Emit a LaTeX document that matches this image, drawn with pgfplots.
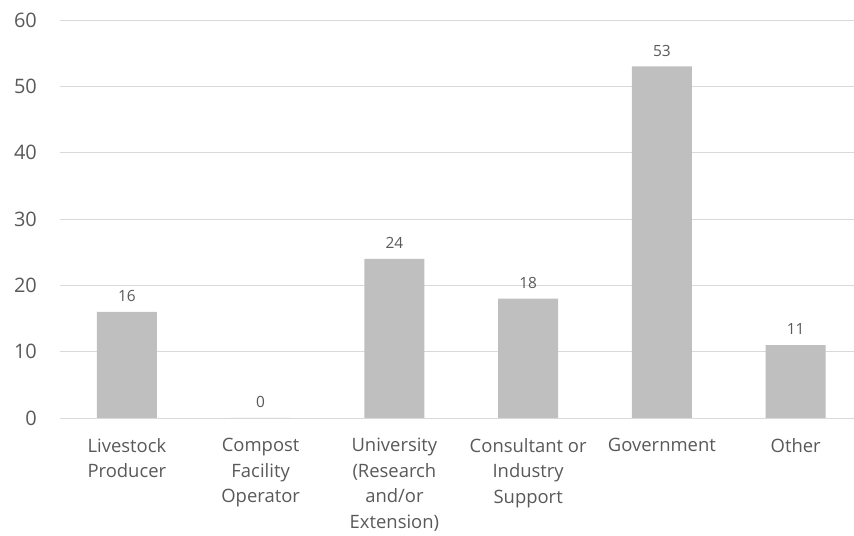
\documentclass[border=0pt]{standalone}
\usepackage{pgfplots}
\pgfplotsset{compat=1.18}
\usepackage{fontspec}
\setmainfont{Open Sans}

\definecolor{barfill}{HTML}{BFBFBF}
\definecolor{labeltext}{HTML}{595959}
\definecolor{gridline}{HTML}{D9D9D9}

\begin{document}
\begin{tikzpicture}[x=1bp,y=1bp]
  \useasboundingbox (-60,-118) rectangle (794,418);
  \begin{axis}[
    at={(0,0)}, anchor=south west,
    scale only axis,
    width=794bp, height=398bp,
    ybar, bar width=0.448,
    xmin=-0.5, xmax=5.436,
    ymin=0, ymax=60,
    ytick={0,10,...,60},
    xtick=data,
    xticklabels={
      Livestock\\Producer,
      Compost\\Facility\\Operator,
      University\\(Research\\and/or\\Extension),
      Consultant or\\Industry\\Support,
      Government,
      Other},
    major tick length=0pt,
    axis line style={draw=none},
    ymajorgrids,
    grid style={gridline, line width=0.9bp},
    /pgf/number format/assume math mode=true,
    yticklabel style={anchor=east, inner sep=0pt, xshift=-23bp,
      font=\fontsize{20}{24}\selectfont, text=labeltext},
    xticklabel style={anchor=north, inner sep=0pt, yshift=-20bp, align=center,
      font=\fontsize{18.5}{25.7}\selectfont, text=labeltext},
    nodes near coords,
    nodes near coords style={anchor=south, inner sep=0pt, yshift=10bp,
      font=\fontsize{15.5}{18}\selectfont, text=labeltext},
  ]
    \addplot[fill=barfill, draw=none] coordinates {
      (0,16) (1,0) (2,24) (3,18) (4,53) (5,11)
    };
  \end{axis}
\end{tikzpicture}
\end{document}
